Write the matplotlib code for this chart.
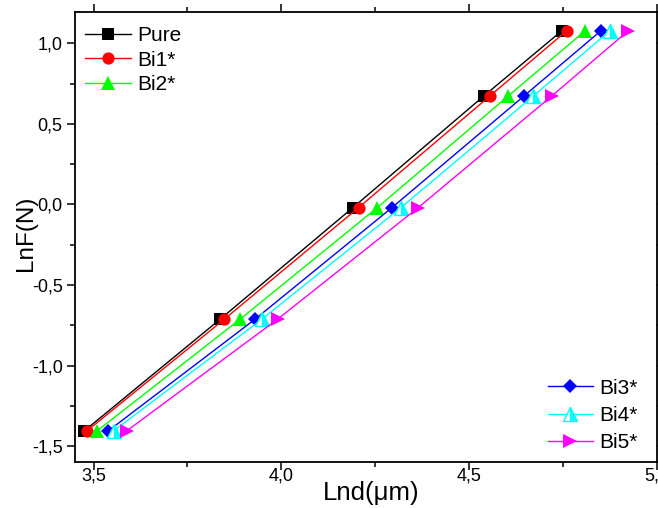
import matplotlib
matplotlib.use("Agg")
import matplotlib.pyplot as plt
from matplotlib.ticker import MultipleLocator, FuncFormatter

plt.rcParams['font.family'] = ['Liberation Sans', 'DejaVu Sans']

# Data
lnF = [-1.406, -0.713, -0.020, 0.673, 1.078]
series_names = ["Pure", "Bi1*", "Bi2*", "Bi3*", "Bi4*", "Bi5*"]
x_pure = [3.475, 3.837, 4.191, 4.540, 4.748]
x_bi1 = [3.482, 3.848, 4.206, 4.556, 4.761]
x_bi2 = [3.509, 3.890, 4.256, 4.605, 4.810]
x_bi3 = [3.539, 3.930, 4.295, 4.647, 4.852]
x_bi4 = [3.553, 3.948, 4.319, 4.672, 4.876]
x_bi5 = [3.588, 3.990, 4.365, 4.721, 4.925]
xs = [x_pure, x_bi1, x_bi2, x_bi3, x_bi4, x_bi5]

colors = ["#000000", "#FF0000", "#00FF00", "#0000FF", "#00FFFF", "#FF00FF"]
markers = ["s", "o", "^", "D", "^", ">"]
msizes = [8, 8.8, 9.5, 7.5, 9.5, 9.5]

W, H = 658, 508
fig = plt.figure(figsize=(W / 100, H / 100), dpi=100)
ax = fig.add_axes([74.5 / W, 1 - 461.7 / H, (656.5 - 74.5) / W, (461.7 - 12) / H])

handles = []
for name, x, c, m, ms in zip(series_names, xs, colors, markers, msizes):
    if name == "Bi4*":
        kw = dict(fillstyle='right', markerfacecoloralt='white', markeredgewidth=1.0)
    else:
        kw = dict(markeredgewidth=0)
    h, = ax.plot(x, lnF, color=c, lw=1.0, marker=m, markersize=ms,
                 markerfacecolor=c, markeredgecolor=c, label=name, **kw)
    handles.append(h)

ax.set_xlim(3.449, 5.0)
ax.set_ylim(-1.597, 1.194)

ax.xaxis.set_major_locator(MultipleLocator(0.5))
ax.xaxis.set_minor_locator(MultipleLocator(0.25))
ax.yaxis.set_major_locator(MultipleLocator(0.5))
ax.yaxis.set_minor_locator(MultipleLocator(0.25))
fmt = FuncFormatter(lambda v, p: f"{v:.1f}".replace('.', ','))
ax.xaxis.set_major_formatter(fmt)
ax.yaxis.set_major_formatter(fmt)

ax.tick_params(which='both', direction='out', top=True, right=True,
               labeltop=False, labelright=False, width=1.1, labelsize=13)
ax.tick_params(which='major', length=5.5)
ax.tick_params(which='minor', length=3.5)
ax.tick_params(axis='x', which='major', pad=-1)
ax.tick_params(axis='y', which='major', pad=3)
for s in ax.spines.values():
    s.set_linewidth(1.3)

ax.set_xlabel("Lnd(μm)", fontsize=18.5)
ax.set_ylabel("LnF(N)", fontsize=17.5)
axw, axh = 656.5 - 74.5, 461.7 - 12
ax.xaxis.set_label_coords((371 - 74.5) / axw, (461.7 - 481) / axh)
ax.yaxis.set_label_coords((37 - 74.5) / axw, 0.5 + 4 / axh)

leg1 = ax.legend(handles=handles[:3], loc='upper left', bbox_to_anchor=(85 / W, 1 - 26 / H),
                 bbox_transform=fig.transFigure, frameon=False, fontsize=15,
                 handlelength=2.2, handletextpad=0.3, labelspacing=0.27,
                 borderpad=0, borderaxespad=0)
ax.add_artist(leg1)
ax.legend(handles=handles[3:], loc='lower right', bbox_to_anchor=(638 / W, 1 - 452 / H),
          bbox_transform=fig.transFigure, frameon=False, fontsize=15,
          handlelength=2.2, handletextpad=0.3, labelspacing=0.39,
          borderpad=0, borderaxespad=0)

fig.savefig("out.png", dpi=100)
